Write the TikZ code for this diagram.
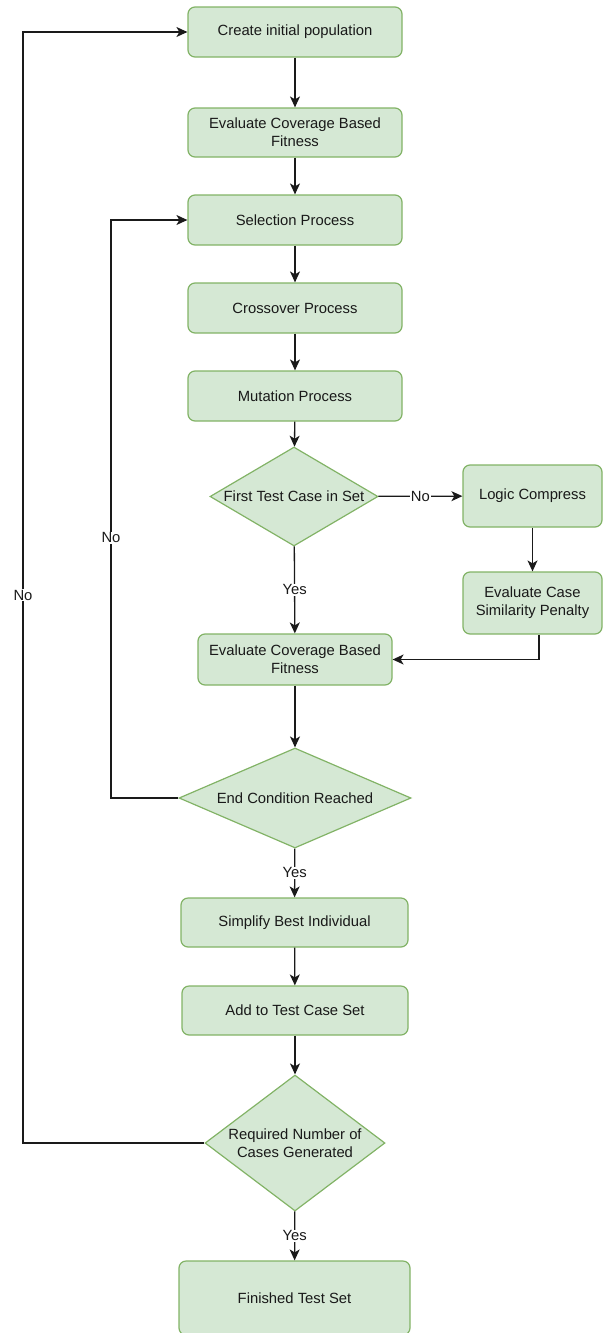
\documentclass[tikz,border=0pt]{standalone}
\usepackage{fontspec}
\setmainfont{Liberation Sans}
\usetikzlibrary{shapes.geometric,arrows.meta,positioning}
\definecolor{boxfill}{HTML}{D5E8D4}
\definecolor{boxline}{HTML}{82B366}
\definecolor{wire}{HTML}{1A1A1A}
\begin{document}
\begin{tikzpicture}[x=1pt,y=-1pt,
  every node/.style={font=\fontsize{14.8}{18}\selectfont, text=black!90},
  procbox/.style={draw=boxline, fill=boxfill, line width=1.2pt, rounded corners=7pt,
    align=center, inner sep=0pt},
  decision/.style={draw=boxline, fill=boxfill, line width=1.2pt, diamond,
    align=center, inner sep=0pt},
  flow/.style={draw=wire, line width=1.3pt, -{Stealth[length=11pt,width=10pt,inset=3pt]}},
  edgelabel/.style={fill=white, inner sep=1pt}]
\useasboundingbox (0,0) rectangle (603,1333);

% main column of process steps
\node[procbox, minimum width=214, minimum height=50] (init) at (295,32) {Create initial population};
\node[procbox, minimum width=214, minimum height=49] (eval1) at (295,132.5) {Evaluate Coverage Based\\Fitness};
\node[procbox, minimum width=214, minimum height=50] (sel) at (295,220) {Selection Process};
\node[procbox, minimum width=214, minimum height=50] (cross) at (295,308) {Crossover Process};
\node[procbox, minimum width=214, minimum height=50] (mut) at (295,396) {Mutation Process};

% first decision and its side branch
\node[decision, minimum width=168, minimum height=99, aspect=1.7] (first) at (294,496.5) {};
\node[align=center] at (first.center) {First Test Case in Set};
\node[procbox, minimum width=139, minimum height=62] (logic) at (532.5,496) {Logic Compress};
\node[procbox, minimum width=139, minimum height=62] (sim) at (532.5,603) {Evaluate Case\\Similarity Penalty};

\node[procbox, minimum width=194, minimum height=51] (eval2) at (295,659.5) {Evaluate Coverage Based\\Fitness};

% end-of-generation check
\node[decision, minimum width=232, minimum height=100, aspect=2.3] (endc) at (295,798) {};
\node[align=center] at (endc.center) {End Condition Reached};

\node[procbox, minimum width=227, minimum height=49] (simp) at (294.5,922.5) {Simplify Best Individual};
\node[procbox, minimum width=226, minimum height=49] (add) at (295,1010.5) {Add to Test Case Set};

% test-set size check
\node[decision, minimum width=180, minimum height=136, aspect=1.32] (req) at (295,1143) {};
\node[align=center] at (req.center) {Required Number of\\Cases Generated};

\node[procbox, minimum width=231, minimum height=74] (fin) at (294.5,1298) {Finished Test Set};

% loop-back corners
\coordinate (outerA) at (23,1143);
\coordinate (outerB) at (23,32);
\coordinate (innerA) at (111,798);
\coordinate (innerB) at (111,220);

% straight flow
\draw[flow] (init) -- (eval1);
\draw[flow] (eval1) -- (sel);
\draw[flow] (sel) -- (cross);
\draw[flow] (cross) -- (mut);
\draw[flow] (mut) -- (first);
\draw[flow] (first) -- node[edgelabel, pos=0.5]{No} (logic);
\draw[flow] (logic) -- (sim);
\draw[flow] (first) -- node[edgelabel, pos=0.5]{Yes} (eval2);
\draw[flow] ([xshift=6.5pt]sim.south) |- (eval2.east);
\draw[flow] (eval2) -- (endc);
\draw[flow] (endc) -- node[edgelabel, pos=0.5]{Yes} (simp);
\draw[flow] (simp) -- (add);
\draw[flow] (add) -- (req);
\draw[flow] (req) -- node[edgelabel, pos=0.5]{Yes} (fin);

% loops back to earlier steps
\draw[flow] (endc.west) -- (innerA) -- node[edgelabel, pos=0.45]{No} (innerB) -- (sel.west);
\draw[flow] (req.west) -- (outerA) -- node[edgelabel, pos=0.493]{No} (outerB) -- (init.west);
\end{tikzpicture}
\end{document}
